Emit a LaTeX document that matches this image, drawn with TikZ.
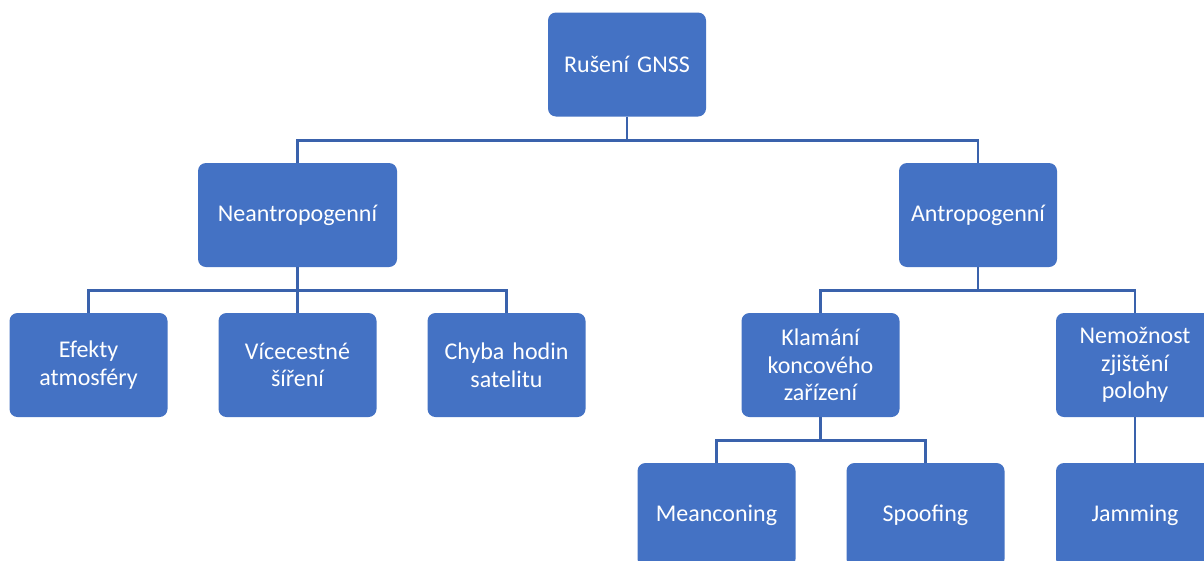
\documentclass[tikz,border=0pt]{standalone}
\usepackage{fontspec}
\setmainfont{Carlito}
\definecolor{boxblue}{HTML}{4472C4}
\definecolor{linkblue}{HTML}{3A62AC}
\begin{document}
\begin{tikzpicture}[x=1pt,y=-1pt,
  card/.style={fill=boxblue, draw=none, rounded corners=8pt, text=white,
    minimum height=104pt, align=center, inner sep=0pt,
    font=\fontsize{24}{27.5}\selectfont},
  narrow/.style={card, minimum width=158pt, text width=154pt},
  wide/.style={card, minimum width=199pt, text width=190pt},
  link/.style={draw=linkblue, line width=2.6pt}]
\clip (0,0) rectangle (1204,560);
\fill[white] (0,0) rectangle (1204,560);

% top level
\node[narrow] (root) at (627,64.5) {Rušení GNSS};

% second level
\node[wide]   (neant) at (297.5,215) {Neantropogenní};
\node[narrow] (ant)   at (978,215)   {Antropogenní};

% third level
\node[narrow] (efekty) at (88.5,365)  {Efekty\\atmosféry};
\node[narrow] (vice)   at (297.5,365) {Vícecestné\\šíření};
\node[narrow] (chyba)  at (506.5,365) {Chyba hodin\\satelitu};
\node[narrow] (klam)   at (820.5,365) {Klamání\\koncového\\zařízení};
\node[narrow] (nemoz)  at (1135,365)  {Nemožnost\\zjištění\\polohy};

% fourth level
\node[narrow] (mean)  at (716.5,515) {Meanconing};
\node[narrow] (spoof) at (925.5,515) {Spoofing};
\node[narrow] (jam)   at (1135,515)  {Jamming};

% connectors
\draw[link] (root.south) -- ++(0,23.5) -| (neant.north);
\draw[link] (root.south) -- ++(0,23.5) -| (ant.north);

\draw[link] (neant.south) -- ++(0,23) -| (efekty.north);
\draw[link] (neant.south) -- (vice.north);
\draw[link] (neant.south) -- ++(0,23) -| (chyba.north);

\draw[link] (ant.south) -- ++(0,23) -| (klam.north);
\draw[link] (ant.south) -- ++(0,23) -| (nemoz.north);

\draw[link] (klam.south) -- ++(0,23) -| (mean.north);
\draw[link] (klam.south) -- ++(0,23) -| (spoof.north);

\draw[link] (nemoz.south) -- (jam.north);
\end{tikzpicture}
\end{document}
